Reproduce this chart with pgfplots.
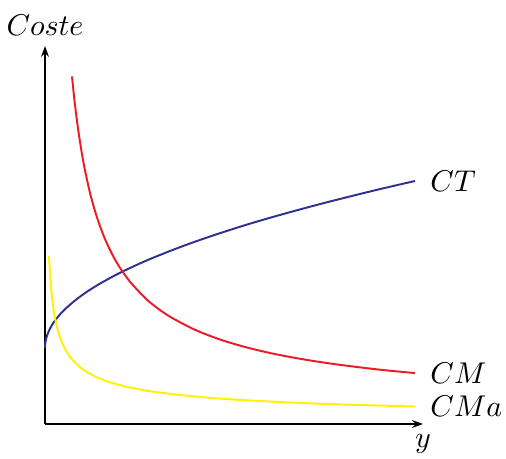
\documentclass[border=0pt]{standalone}
\usepackage{pgfplots}
\pgfplotsset{compat=1.18}
\usetikzlibrary{arrows.meta}
\definecolor{ctblue}{RGB}{46,49,146}
\definecolor{cmred}{RGB}{237,28,36}
\definecolor{cmayellow}{RGB}{255,242,0}
\begin{document}
\begin{tikzpicture}
\path[use as bounding box] (-15pt,-11.67pt) rectangle (153.67pt,141.33pt);
\begin{axis}[
  scale only axis, width=126pt, height=126pt,
  xmin=0, xmax=378, ymin=0, ymax=378,
  enlargelimits=false,
  axis lines=left,
  axis line style={line width=0.9pt, -{Stealth[length=3.6pt,width=2.6pt]}},
  xtick=\empty, ytick=\empty,
  clip=false,
]
\addplot[ctblue, line width=0.65pt, smooth, tension=0.5] coordinates {
(0,76) (0.25,80.3) (0.5,82.1) (1,84.7) (2,88.3) (3.5,92.2) (5,95.4) (7.5,99.8)
(10,103.4) (15,109.6) (20,114.8) (30,123.5) (40,130.9) (50,137.4) (60,143.2) (75,151.2)
(100,162.8) (125,173.0) (150,182.3) (175,190.8) (200,198.8) (225,206.2) (250,213.2)
(275,219.9) (300,226.3) (335,234.9) (370,243.0)
} node[pos=1, anchor=west, xshift=1.5pt, text=black] {$CT$};
\addplot[cmred, line width=0.65pt, smooth, tension=0.5] coordinates {
(27,347.6) (28.5,332.7) (30,319.0) (32.5,299.2) (35,282.1) (37.5,266.9) (40,253.6)
(45,231.1) (50,213.0) (55,197.8) (60,185.0) (65,174.1) (70,164.5) (75,156.2)
(85,142.3) (100,126.2) (110,117.7) (125,107.3) (150,94.2) (175,84.5) (200,77.0)
(225,71.0) (250,66.1) (275,62.0) (300,58.5) (335,54.3) (370,50.9)
} node[pos=1, anchor=west, xshift=1.5pt, text=black] {$CM$};
\addplot[cmayellow, line width=0.65pt, smooth, tension=0.5] coordinates {
(4,168.2) (4.5,158.6) (5,150.4) (6,137.3) (7,127.1) (8,118.9) (9,112.1) (10,106.4)
(12.5,95.1) (15,86.8) (17.5,80.4) (20,75.2) (25,67.3) (30,61.4) (35,56.9) (40,53.2)
(50,47.6) (60,43.4) (75,38.8) (100,33.6) (125,30.1) (150,27.5) (175,25.4) (200,23.8)
(250,21.3) (300,19.4) (370,17.5)
} node[pos=1, anchor=west, xshift=1.5pt, text=black] {$CMa$};
\node[anchor=south] at (axis cs:0,378) {$Coste$};
\node[anchor=north] at (axis cs:378,0) {$y$};
\end{axis}
\end{tikzpicture}
\end{document}
